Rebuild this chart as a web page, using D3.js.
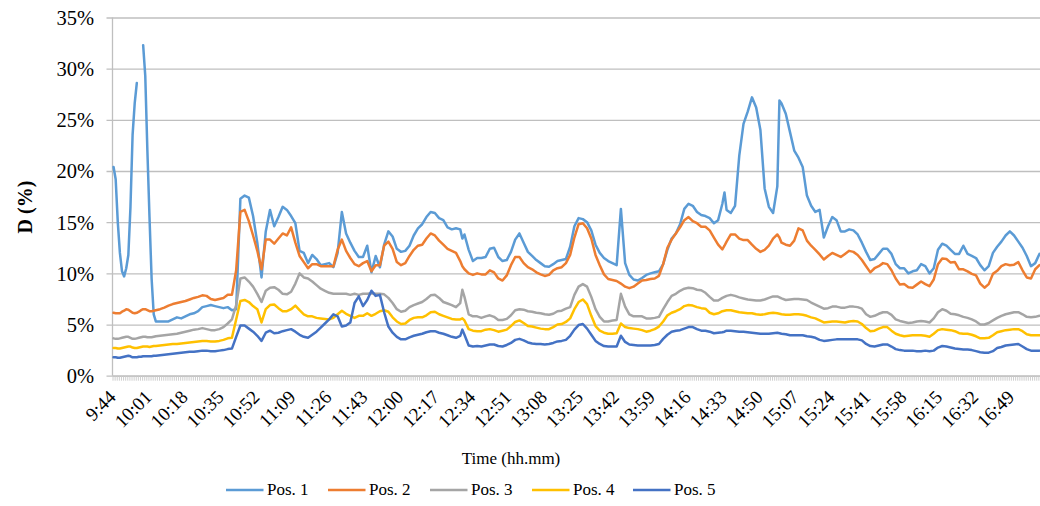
<!DOCTYPE html>
<html><head><meta charset="utf-8">
<script src="https://cdn.jsdelivr.net/npm/d3@7"></script>
<style>
html,body{margin:0;padding:0;background:#fff;}
svg{display:block;font-family:"Liberation Serif","Times New Roman",serif;}
</style></head><body>
<svg id="chart" width="1040" height="506"></svg>
<script>
// minutes after 9:44 for each sample
const minutes = [0,1,2,3,4,5,6,7,8,9,10,11,12,13,14,15,16,17,18,19,20,
22,24,26,28,30,32,34,36,38,40,
42,44,46,48,50,52,54,56,58,60,
62,64,66,68,70,72,74,76,78,80,
82,84,86,88,90,92,94,96,98,100,
102,104,106,108,110,112,114,116,118,120,
122,124,126,128,130,132,134,136,138,140,
142,144,146,148,150,152,154,156,158,160,
162,164,165,166,168,170,172,174,176,178,180,
182,184,186,188,190,192,194,196,198,200,
202,204,206,208,210,212,214,216,218,220,
222,224,226,228,230,232,234,236,238,240,
242,244,246,248,250,252,254,256,258,260,
262,264,266,268,270,272,274,276,278,280,
282,284,286,288,289,290,292,294,296,298,300,
302,304,306,308,310,312,314,315,316,318,320,
322,324,326,328,330,332,334,336,338,340,
342,344,346,348,350,352,354,356,358,360,
362,364,366,368,370,372,374,376,378,380,
382,384,386,388,390,392,394,396,398,400,
402,404,406,408,410,412,414,416,418,420,
422,424,426,428,430,432,434,436,438];

const pos1 = [20.4,19.2,15.0,12.0,10.2,9.7,10.5,11.8,16.5,23.5,26.6,28.6,null,null,32.3,29.3,22.0,15.5,9.5,6.0,5.3,
5.3,5.3,5.3,5.5,5.7,5.6,5.8,6.0,6.1,6.3,
6.7,6.8,6.9,6.8,6.7,6.6,6.7,6.4,6.5,17.3,
17.6,17.4,15.6,13.0,9.6,14.1,16.2,14.6,15.5,16.5,
16.2,15.6,14.9,12.2,12.0,11.0,11.8,11.4,10.8,10.9,
11.0,10.6,12.0,16.0,13.9,13.0,12.2,11.6,11.6,12.7,
10.1,11.7,10.6,12.8,14.1,13.6,12.4,12.1,12.2,12.7,
13.7,14.4,14.8,15.5,16.0,15.9,15.4,15.2,14.5,14.3,
14.4,14.3,13.4,13.8,12.3,11.2,11.5,11.5,11.6,12.4,12.5,
11.6,11.2,11.3,12.1,13.3,13.9,13.0,12.1,11.7,11.3,
11.0,10.7,10.65,10.9,11.2,11.3,11.4,12.6,14.6,15.4,
15.3,15.0,14.2,12.8,12.0,11.5,11.2,11.0,10.8,16.3,
11.0,9.85,9.4,9.3,9.55,9.85,10.0,10.1,10.2,10.9,
12.3,13.4,13.9,14.8,16.3,16.8,16.6,16.0,15.7,15.6,
15.4,14.9,15.2,16.8,17.9,16.2,15.9,16.6,21.5,24.6,25.8,
27.2,26.2,24.0,18.3,16.5,15.9,18.5,26.9,26.6,25.6,23.8,
22.0,21.3,20.4,17.6,16.6,16.0,16.2,13.5,14.6,15.5,
15.2,14.1,14.1,14.3,14.2,13.8,13.0,12.1,11.3,11.4,
11.9,12.4,12.4,11.9,10.9,10.5,10.5,10.0,10.2,10.3,
10.9,10.7,10.0,10.5,12.3,12.9,12.7,12.3,11.9,11.9,
12.7,11.9,11.7,11.5,10.8,10.3,10.7,12.0,12.6,13.1,
13.7,14.1,13.7,13.1,12.5,11.7,10.7,11.0,11.9];

const pos2 = [6.15,6.1,6.1,6.1,6.25,6.35,6.5,6.45,6.3,6.15,6.1,6.15,6.25,6.4,6.5,6.5,6.4,6.3,6.3,6.35,6.4,
6.5,6.65,6.85,7.0,7.1,7.2,7.3,7.45,7.6,7.7,
7.85,7.8,7.5,7.4,7.5,7.6,7.9,7.9,10.3,16.0,
16.2,15.1,13.7,12.2,10.4,13.3,13.3,12.9,13.4,13.9,
13.7,14.5,13.0,11.7,11.1,10.5,10.9,10.9,10.7,10.7,
10.7,10.7,12.3,13.3,12.2,11.5,10.9,10.7,11.0,11.2,
10.2,10.8,10.8,12.7,13.1,12.4,11.1,10.8,11.0,11.7,
12.3,12.7,12.8,13.4,13.9,13.7,13.2,12.8,12.4,12.2,
12.0,11.2,10.7,10.4,10.0,9.85,10.0,9.9,9.9,10.3,10.1,
9.5,9.3,9.8,10.8,11.6,11.6,11.0,10.6,10.4,10.1,
9.9,9.75,9.85,10.3,10.5,10.6,11.0,11.8,13.5,14.8,
14.9,14.4,13.4,11.8,10.8,9.9,9.45,9.35,9.25,9.0,
8.7,8.55,8.7,9.0,9.3,9.35,9.45,9.5,9.75,10.9,
12.5,13.3,13.9,14.5,15.2,15.5,15.1,14.9,14.55,14.55,
14.2,13.5,12.8,12.35,12.7,13.1,13.8,13.8,13.4,13.25,13.25,
12.8,12.4,12.1,12.3,12.7,13.4,13.8,13.5,13.0,12.8,12.7,
13.2,14.4,14.2,13.2,12.7,12.3,11.85,11.35,11.7,12.0,
11.8,11.6,11.9,12.2,12.1,11.8,11.3,10.7,10.1,10.5,
10.7,11.0,10.9,10.3,9.5,8.9,8.95,8.65,8.6,8.9,
9.2,8.95,8.75,9.4,10.9,11.45,11.4,11.05,11.1,10.4,
10.4,10.2,9.95,9.8,9.0,8.6,8.95,9.95,10.25,10.7,
10.9,10.8,10.85,11.1,10.3,9.6,9.5,10.4,10.8];

const pos3 = [3.65,3.6,3.6,3.65,3.7,3.75,3.8,3.8,3.7,3.6,3.6,3.65,3.7,3.75,3.8,3.8,3.75,3.75,3.75,3.8,3.85,
3.9,3.95,4.0,4.05,4.1,4.2,4.3,4.4,4.5,4.55,
4.65,4.55,4.45,4.45,4.55,4.75,5.1,5.5,6.9,9.5,
9.6,9.2,8.7,8.0,7.2,8.3,8.6,8.65,8.4,8.0,
7.95,8.2,9.0,10.0,9.6,9.5,9.2,8.85,8.5,8.3,
8.1,8.0,8.0,8.0,8.0,7.9,8.0,7.9,8.0,8.0,
8.05,8.0,8.0,7.95,7.6,7.1,6.5,6.25,6.35,6.7,
6.9,7.05,7.2,7.5,7.85,7.9,7.6,7.2,7.05,6.9,
6.7,7.1,8.4,7.7,6.0,5.8,5.8,5.65,5.8,5.9,5.75,
5.45,5.45,5.55,5.9,6.4,6.5,6.45,6.3,6.25,6.15,
6.1,6.0,5.95,6.05,6.3,6.35,6.55,6.7,7.9,8.7,
8.95,8.7,7.7,6.5,5.75,5.3,5.3,5.4,5.45,8.0,
6.75,6.0,5.8,5.8,5.8,5.6,5.6,5.65,5.75,6.5,
7.2,7.8,8.0,8.3,8.5,8.6,8.55,8.4,8.35,8.1,
7.7,7.35,7.35,7.6,7.7,7.8,7.9,7.8,7.65,7.55,7.45,
7.4,7.35,7.35,7.45,7.6,7.75,7.75,7.65,7.55,7.4,7.45,
7.5,7.5,7.45,7.4,7.15,6.95,6.75,6.55,6.6,6.75,
6.75,6.65,6.65,6.75,6.75,6.7,6.55,6.0,5.75,5.85,
6.05,6.2,6.2,5.95,5.5,5.35,5.25,5.15,5.2,5.3,
5.35,5.3,5.2,5.6,6.2,6.5,6.35,6.05,6.0,5.9,
5.75,5.65,5.5,5.3,5.0,5.0,5.15,5.4,5.65,5.85,
6.0,6.1,6.2,6.2,6.0,5.75,5.7,5.75,5.85];

const pos4 = [2.7,2.7,2.65,2.65,2.7,2.75,2.8,2.85,2.85,2.75,2.7,2.7,2.75,2.8,2.85,2.85,2.85,2.8,2.85,2.9,2.9,
2.95,3.0,3.05,3.1,3.1,3.15,3.2,3.25,3.3,3.35,
3.4,3.4,3.35,3.35,3.4,3.5,3.65,3.7,5.5,7.3,
7.4,7.2,6.8,6.5,5.2,6.5,6.9,6.95,6.6,6.3,
6.3,6.5,6.85,6.4,6.0,5.8,5.8,5.65,5.6,5.55,
5.5,5.65,6.0,6.35,6.05,5.85,5.65,5.85,5.85,6.1,
5.85,6.05,6.3,6.4,6.25,5.7,5.3,5.05,5.1,5.45,
5.65,5.7,5.7,5.9,6.2,6.25,6.0,5.85,5.7,5.55,
5.5,5.5,5.6,5.4,4.55,4.4,4.35,4.35,4.5,4.55,4.45,
4.3,4.4,4.5,4.85,5.25,5.4,5.15,4.85,4.8,4.7,
4.6,4.55,4.55,4.75,5.0,5.05,5.25,5.6,6.5,7.2,
7.45,7.0,5.85,4.85,4.4,4.2,4.1,4.1,4.15,5.1,
4.75,4.65,4.6,4.55,4.45,4.3,4.4,4.55,4.8,5.3,
5.9,6.15,6.3,6.5,6.8,6.9,6.85,6.7,6.6,6.55,
6.15,6.0,6.1,6.3,6.35,6.4,6.4,6.3,6.2,6.15,6.1,
6.1,6.0,5.95,6.0,6.1,6.15,6.1,6.05,6.0,5.95,5.95,
6.0,6.0,5.95,5.85,5.7,5.6,5.4,5.2,5.25,5.3,
5.3,5.25,5.2,5.3,5.35,5.3,5.05,4.65,4.35,4.4,
4.6,4.75,4.75,4.4,4.1,3.95,3.85,3.9,3.95,3.95,
3.95,3.9,3.8,4.1,4.45,4.55,4.5,4.45,4.35,4.15,
4.1,4.1,4.0,3.85,3.65,3.65,3.7,3.95,4.25,4.35,
4.45,4.5,4.55,4.55,4.35,4.05,3.95,3.95,3.95];

const pos5 = [1.8,1.8,1.75,1.75,1.8,1.85,1.9,1.95,1.9,1.8,1.8,1.8,1.85,1.85,1.9,1.9,1.9,1.9,1.9,1.95,1.95,
2.0,2.05,2.1,2.15,2.2,2.25,2.3,2.35,2.35,2.4,
2.45,2.45,2.4,2.4,2.45,2.5,2.6,2.65,3.8,4.9,
4.9,4.6,4.3,3.9,3.4,4.2,4.4,4.15,4.2,4.35,
4.45,4.55,4.3,4.0,3.8,3.7,4.0,4.3,4.7,5.1,
5.5,6.0,5.8,4.8,4.9,5.2,7.1,7.75,6.8,7.4,
8.3,7.8,7.9,6.2,4.8,4.2,3.8,3.55,3.55,3.75,
3.9,4.0,4.1,4.25,4.35,4.35,4.2,4.1,3.95,3.8,
3.7,3.9,4.5,4.0,2.95,2.85,2.9,2.85,2.95,3.05,3.05,
2.9,2.85,3.0,3.2,3.5,3.6,3.45,3.25,3.15,3.1,
3.1,3.05,3.1,3.2,3.35,3.4,3.5,3.9,4.5,4.95,
5.05,4.6,4.0,3.4,3.1,2.9,2.85,2.85,2.85,3.9,
3.3,3.05,3.0,2.95,2.95,2.95,2.95,3.0,3.1,3.6,
4.0,4.3,4.4,4.45,4.6,4.75,4.75,4.55,4.4,4.4,
4.3,4.15,4.2,4.25,4.3,4.4,4.4,4.35,4.3,4.3,4.25,
4.2,4.15,4.1,4.1,4.1,4.15,4.2,4.15,4.1,4.05,3.95,
3.95,3.95,3.95,3.85,3.8,3.7,3.5,3.4,3.45,3.5,
3.55,3.55,3.55,3.55,3.55,3.55,3.45,3.1,2.9,2.85,
2.95,3.05,3.05,2.85,2.6,2.5,2.45,2.45,2.45,2.4,
2.4,2.45,2.4,2.45,2.75,2.9,2.85,2.75,2.65,2.6,
2.55,2.55,2.5,2.4,2.3,2.25,2.25,2.4,2.7,2.8,
2.95,3.0,3.05,3.1,2.85,2.6,2.45,2.45,2.45];

const seriesNames = ["Pos. 1","Pos. 2","Pos. 3","Pos. 4","Pos. 5"];
const seriesColors = ["#5B9BD5","#ED7D31","#A5A5A5","#FFC000","#4472C4"];
const tickLabels = ["9:44","10:01","10:18","10:35","10:52","11:09","11:26","11:43","12:00","12:17","12:34","12:51","13:08","13:25","13:42","13:59","14:16","14:33","14:50","15:07","15:24","15:41","15:58","16:15","16:32","16:49"];
const yTicks = [0,5,10,15,20,25,30,35];
const lastMinute = 438;

const seriesValues = [pos1,pos2,pos3,pos4,pos5];
const toMin = s => { const [h,m] = s.split(":").map(Number); return h*60+m; };
const t0 = toMin(tickLabels[0]);

const svg = d3.select("#chart");
const x = d3.scaleLinear().domain([-0.5, lastMinute + 0.5]).range([112.5, 1040.5]);
const y = d3.scaleLinear().domain([0, 35]).range([375.7, 17.5]);

// gridlines + y labels
const yAxis = d3.axisLeft(y).tickValues(yTicks).tickFormat(d => d + "%")
  .tickSizeInner(-(1040 - 106.5)).tickSizeOuter(0).tickPadding(12.5);
const gy = svg.append("g").attr("transform","translate(106.5,0)").call(yAxis);
gy.select(".domain").remove();
gy.selectAll(".tick line").attr("stroke","#bfbfbf").attr("stroke-width",1.3);
gy.selectAll(".tick text").attr("font-size","20.5px").attr("fill","#000")
  .attr("font-family","Liberation Serif, Times New Roman, serif").attr("dy","0.34em");

// category tick marks (every minute)
const minorAxis = d3.axisBottom(x).tickValues(d3.range(-0.5, lastMinute + 1, 1))
  .tickFormat("").tickSizeInner(5).tickSizeOuter(0);
const gm = svg.append("g").attr("transform","translate(0,375.7)").call(minorAxis);
gm.select(".domain").attr("stroke","#bfbfbf").attr("stroke-width",1.3);
gm.selectAll(".tick line").attr("stroke","#c8c8c8").attr("stroke-width",0.9);

// y axis line
svg.append("line").attr("x1",112.5).attr("x2",112.5).attr("y1",y(35)).attr("y2",y(0))
  .attr("stroke","#bfbfbf").attr("stroke-width",1.3);

// x labels
const xAxis = d3.axisBottom(x).tickValues(tickLabels.map(l => toMin(l) - t0))
  .tickFormat((d,i) => tickLabels[i]).tickSize(0);
const gx = svg.append("g").attr("transform","translate(0,375.7)").call(xAxis);
gx.select(".domain").remove();
gx.selectAll(".tick text").attr("font-size","19px").attr("fill","#000")
  .attr("font-family","Liberation Serif, Times New Roman, serif")
  .attr("text-anchor","end").attr("x",0).attr("y",0).attr("dy",0)
  .attr("transform","translate(3,22.5) rotate(-45)");

// lines
const line = d3.line().defined(d => d.v != null).x(d => x(d.t)).y(d => y(d.v));
seriesValues.forEach((vals, k) => {
  const data = minutes.map((t, i) => ({t, v: vals[i]}));
  svg.append("path").datum(data).attr("d", line).attr("fill","none")
    .attr("stroke", seriesColors[k]).attr("stroke-width",2.5)
    .attr("stroke-linejoin","round").attr("stroke-linecap","round");
});

// axis titles
svg.append("text").attr("transform","translate(32,207) rotate(-90)").attr("text-anchor","middle")
  .attr("font-size","20px").attr("font-weight","bold").text("D (%)");
svg.append("text").attr("x",511).attr("y",463.5).attr("text-anchor","middle")
  .attr("font-size","17px").text("Time (hh.mm)");

// legend
const legendX = [226, 328, 430, 532, 633];
const lg = svg.append("g");
seriesNames.forEach((n, k) => {
  lg.append("line").attr("x1",legendX[k]).attr("x2",legendX[k]+37.5).attr("y1",490).attr("y2",490)
    .attr("stroke",seriesColors[k]).attr("stroke-width",2.5);
  lg.append("text").attr("x",legendX[k]+41).attr("y",495).attr("font-size","17px").text(n);
});
</script>
</body></html>
